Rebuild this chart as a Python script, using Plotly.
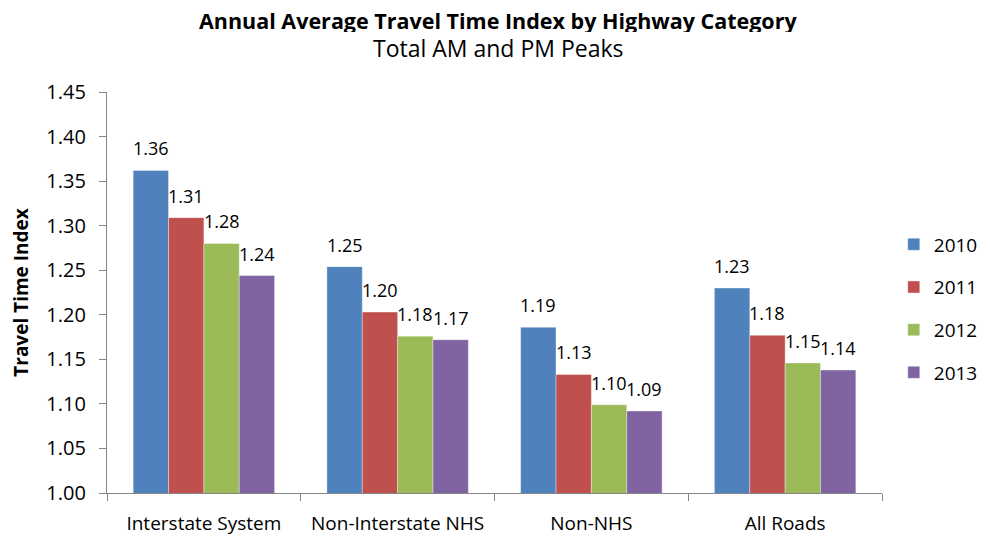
import plotly.graph_objects as go

categories = ["Interstate System", "Non-Interstate NHS", "Non-NHS", "All Roads"]
years = ["2010", "2011", "2012", "2013"]
tti_2010 = [1.362, 1.254, 1.186, 1.230]
tti_2011 = [1.309, 1.203, 1.133, 1.177]
tti_2012 = [1.280, 1.176, 1.099, 1.146]
tti_2013 = [1.244, 1.172, 1.092, 1.138]

series = [tti_2010, tti_2011, tti_2012, tti_2013]
colors = ["#4F81BD", "#C0504D", "#9BBB59", "#8064A2"]
FONT = "Open Sans, Lato, sans-serif"

# page has an 8px body margin, so the figure is 8px smaller than the window
W, H = 982, 529
ML, MR, MT, MB = 99, 108, 84, 44
BARGAP = 0.27

fig = go.Figure()
for year, vals, col in zip(years, series, colors):
    fig.add_trace(go.Bar(
        x=categories, y=vals, name=year, legendgroup=year,
        marker=dict(color=col, line=dict(color="rgba(255,255,255,0.6)", width=0.6)),
        hoverinfo="x+y+name",
    ))

# value labels sit a little above each bar, like the Excel original
plot_w = W - ML - MR
bar_w = plot_w / len(categories) * (1 - BARGAP) / len(years)
for i, vals in enumerate(series):
    dx = (i - (len(years) - 1) / 2) * bar_w
    for cat, v in zip(categories, vals):
        fig.add_annotation(
            x=cat, y=v, text=f"{v:.2f}", showarrow=False,
            xanchor="center", yanchor="bottom", xshift=dx, yshift=8,
            font=dict(size=18, family=FONT, color="#000000"),
        )

fig.update_layout(
    width=W, height=H,
    barmode="group", bargap=BARGAP, bargroupgap=0,
    plot_bgcolor="white", paper_bgcolor="white",
    font=dict(family=FONT, color="#000000"),
    margin=dict(l=ML, r=MR, t=MT, b=MB, autoexpand=False),
    legend=dict(
        xref="container", yref="container",
        x=0.902, xanchor="left", y=0.589, yanchor="top",
        font=dict(size=19, family=FONT), tracegroupgap=15,
        itemwidth=30,
    ),
    showlegend=True,
)

fig.add_annotation(
    text="<b>Annual Average Travel Time Index by Highway Category</b>",
    xref="paper", yref="paper", x=0.5045, y=1.1796, xanchor="center", yanchor="middle",
    height=24, valign="middle",
    showarrow=False, font=dict(size=21.5, family=FONT, color="#000000"),
)
fig.add_annotation(
    text="Total AM and PM Peaks",
    xref="paper", yref="paper", x=0.5045, y=1.110, xanchor="center", yanchor="middle",
    showarrow=False, font=dict(size=23, family=FONT, color="#000000"),
)

fig.update_xaxes(
    showline=True, linecolor="#868686", linewidth=1.3,
    ticks="outside", tickson="boundaries", ticklen=7, tickcolor="#868686",
    tickfont=dict(size=19, family=FONT), showgrid=False, ticklabelstandoff=13,
    tickangle=0, automargin=False,
)
fig.update_yaxes(
    range=[1.0, 1.45], dtick=0.05, tickformat=".2f",
    showline=True, linecolor="#868686", linewidth=1.3,
    ticks="outside", ticklen=7, tickcolor="#868686", ticklabelstandoff=9,
    tickfont=dict(size=20, family=FONT), showgrid=False, zeroline=False,
    title=dict(text="<b>Travel Time Index</b>", font=dict(size=19, family=FONT), standoff=18),
    automargin=False,
)

fig.write_html("out.html")
